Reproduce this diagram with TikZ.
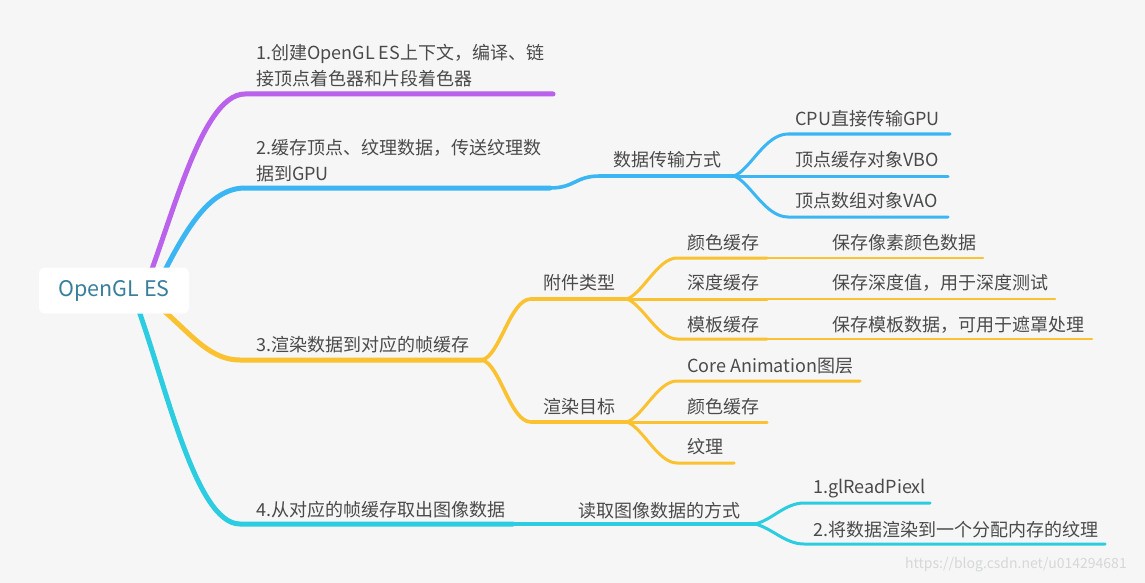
\documentclass[tikz,border=0pt]{standalone}
\usepackage{fontspec}
\setmainfont{Noto Sans CJK SC}
\definecolor{bg}{HTML}{F5F6F5}
\definecolor{txt}{HTML}{4A4A4A}
\definecolor{rootc}{HTML}{3A7E9E}
\definecolor{cpurple}{HTML}{BA62EC}
\definecolor{cblue}{HTML}{3CB6F3}
\definecolor{cyellow}{HTML}{FAC130}
\definecolor{ccyan}{HTML}{2CCDE0}
\definecolor{wm}{HTML}{D6D8D8}
\begin{document}
\begin{tikzpicture}[x=1pt,y=-1pt,
  lbl/.style={anchor=west, inner sep=0pt, text=txt, font=\fontsize{18}{26}\selectfont},
  lone/.style={line width=5pt, line cap=round},
  ltwo/.style={line width=3.6pt, line cap=round},
  lthree/.style={line width=3pt, line cap=round},
  lfour/.style={line width=2pt, line cap=round},
  rootbox/.style={fill=white, rounded corners=6pt, minimum width=150pt, minimum height=46pt, inner sep=0pt, text=rootc, font=\fontsize{21.5}{24}\selectfont}]
\fill[bg] (0,0) rectangle (1145,583);
\useasboundingbox (0,0) rectangle (1145,583);

% coordinates
\coordinate (s1) at (140,300);
\coordinate (s2) at (150,300);
\coordinate (s3) at (150,300);
\coordinate (s4) at (135,300);
\coordinate (p1) at (245,94);   \coordinate (p1e) at (553,94);
\coordinate (b1) at (245,188);  \coordinate (b1e) at (550,188);
\coordinate (b2) at (600,176);  \coordinate (b2e) at (734,176);
\coordinate (b3) at (788,134);  \coordinate (b3e) at (950,134);
\coordinate (b4e) at (948,176);
\coordinate (b5) at (788,217);  \coordinate (b5e) at (948,217);
\coordinate (y1) at (240,360);  \coordinate (y1e) at (482,360);
\coordinate (ya) at (531,299);  \coordinate (yae) at (627,299);
\coordinate (yb) at (531,422);  \coordinate (ybe) at (627,422);
\coordinate (ya1) at (677,258); \coordinate (ya1e) at (767,258); \coordinate (ya1f) at (983,258);
\coordinate (ya2e) at (767,299); \coordinate (ya2f) at (1055,299);
\coordinate (ya3) at (677,339); \coordinate (ya3e) at (767,339); \coordinate (ya3f) at (1092,339);
\coordinate (yb1) at (677,381); \coordinate (yb1e) at (860,381);
\coordinate (yb2e) at (767,422);
\coordinate (yb3) at (677,463); \coordinate (yb3e) at (734,463);
\coordinate (c1) at (240,524);  \coordinate (c1e) at (513,524);
\coordinate (c2e) at (755,524);
\coordinate (c3) at (804,503);  \coordinate (c3e) at (930,503);
\coordinate (c4) at (804,544);  \coordinate (c4e) at (1105,544);

% branch 1
\draw[lone, cpurple] (s1) .. controls (170,230) and (200,94) .. (p1) -- (p1e);
% branch 2
\draw[lone, cblue] (s2) .. controls (180,240) and (205,188) .. (b1) -- (b1e);
\draw[ltwo, cblue] (b1e) .. controls (575,188) and (575,176) .. (b2) -- (b2e);
\draw[lthree, cblue] (b2e) .. controls (750,170) and (765,134) .. (b3) -- (b3e);
\draw[lthree, cblue] (b2e) -- (b4e);
\draw[lthree, cblue] (b2e) .. controls (750,182) and (765,217) .. (b5) -- (b5e);
% branch 3
\draw[lone, cyellow] (s3) .. controls (185,325) and (205,360) .. (y1) -- (y1e);
\draw[ltwo, cyellow] (y1e) .. controls (500,356) and (510,299) .. (ya) -- (yae);
\draw[ltwo, cyellow] (y1e) .. controls (500,364) and (510,422) .. (yb) -- (ybe);
\draw[lthree, cyellow] (yae) .. controls (643,293) and (658,258) .. (ya1) -- (ya1e);
\draw[lfour, cyellow] (ya1e) -- (ya1f);
\draw[lthree, cyellow] (yae) -- (ya2e);
\draw[lfour, cyellow] (ya2e) -- (ya2f);
\draw[lthree, cyellow] (yae) .. controls (643,305) and (658,339) .. (ya3) -- (ya3e);
\draw[lfour, cyellow] (ya3e) -- (ya3f);
\draw[lthree, cyellow] (ybe) .. controls (643,416) and (658,381) .. (yb1) -- (yb1e);
\draw[lthree, cyellow] (ybe) -- (yb2e);
\draw[lthree, cyellow] (ybe) .. controls (643,428) and (658,463) .. (yb3) -- (yb3e);
% branch 4
\draw[lone, ccyan] (s4) .. controls (165,380) and (195,524) .. (c1) -- (c1e);
\draw[ltwo, ccyan] (c1e) -- (c2e);
\draw[lthree, ccyan] (c2e) .. controls (772,520) and (785,503) .. (c3) -- (c3e);
\draw[lthree, ccyan] (c2e) .. controls (772,528) and (785,544) .. (c4) -- (c4e);

% root
\node[rootbox] (root) at (114,290.5) {OpenGL ES};

% labels
\node[lbl, align=left] (t1) at (256,66) {1.创建OpenGL ES上下文，编译、链\\接顶点着色器和片段着色器};
\node[lbl, align=left] (t2) at (256,160.5) {2.缓存顶点、纹理数据，传送纹理数\\据到GPU};
\node[lbl] (t21) at (613,160) {数据传输方式};
\node[lbl] (t211) at (795,119) {CPU直接传输GPU};
\node[lbl] (t212) at (795,160) {顶点缓存对象VBO};
\node[lbl] (t213) at (795,201) {顶点数组对象VAO};
\node[lbl] (t3) at (256,345) {3.渲染数据到对应的帧缓存};
\node[lbl] (t31) at (543,283) {附件类型};
\node[lbl] (t32) at (543,407) {渲染目标};
\node[lbl] (t311) at (687,243) {颜色缓存};
\node[lbl] (t312) at (687,283) {深度缓存};
\node[lbl] (t313) at (687,325) {模板缓存};
\node[lbl] (t3111) at (832,243) {保存像素颜色数据};
\node[lbl] (t3121) at (832,283) {保存深度值，用于深度测试};
\node[lbl] (t3131) at (832,325) {保存模板数据，可用于遮罩处理};
\node[lbl] (t321) at (687,366) {Core Animation图层};
\node[lbl] (t322) at (687,407) {颜色缓存};
\node[lbl] (t323) at (687,447) {纹理};
\node[lbl] (t4) at (256,510) {4.从对应的帧缓存取出图像数据};
\node[lbl] (t41) at (578,511) {读取图像数据的方式};
\node[lbl] (t411) at (813,489) {1.glReadPiexl};
\node[lbl] (t412) at (813,530) {2.将数据渲染到一个分配内存的纹理};
\node[anchor=west, inner sep=0pt, text=wm, font=\fontsize{14}{16}\selectfont] (wmk) at (905,565) {https://blog.csdn.net/u014294681};
\end{tikzpicture}
\end{document}
